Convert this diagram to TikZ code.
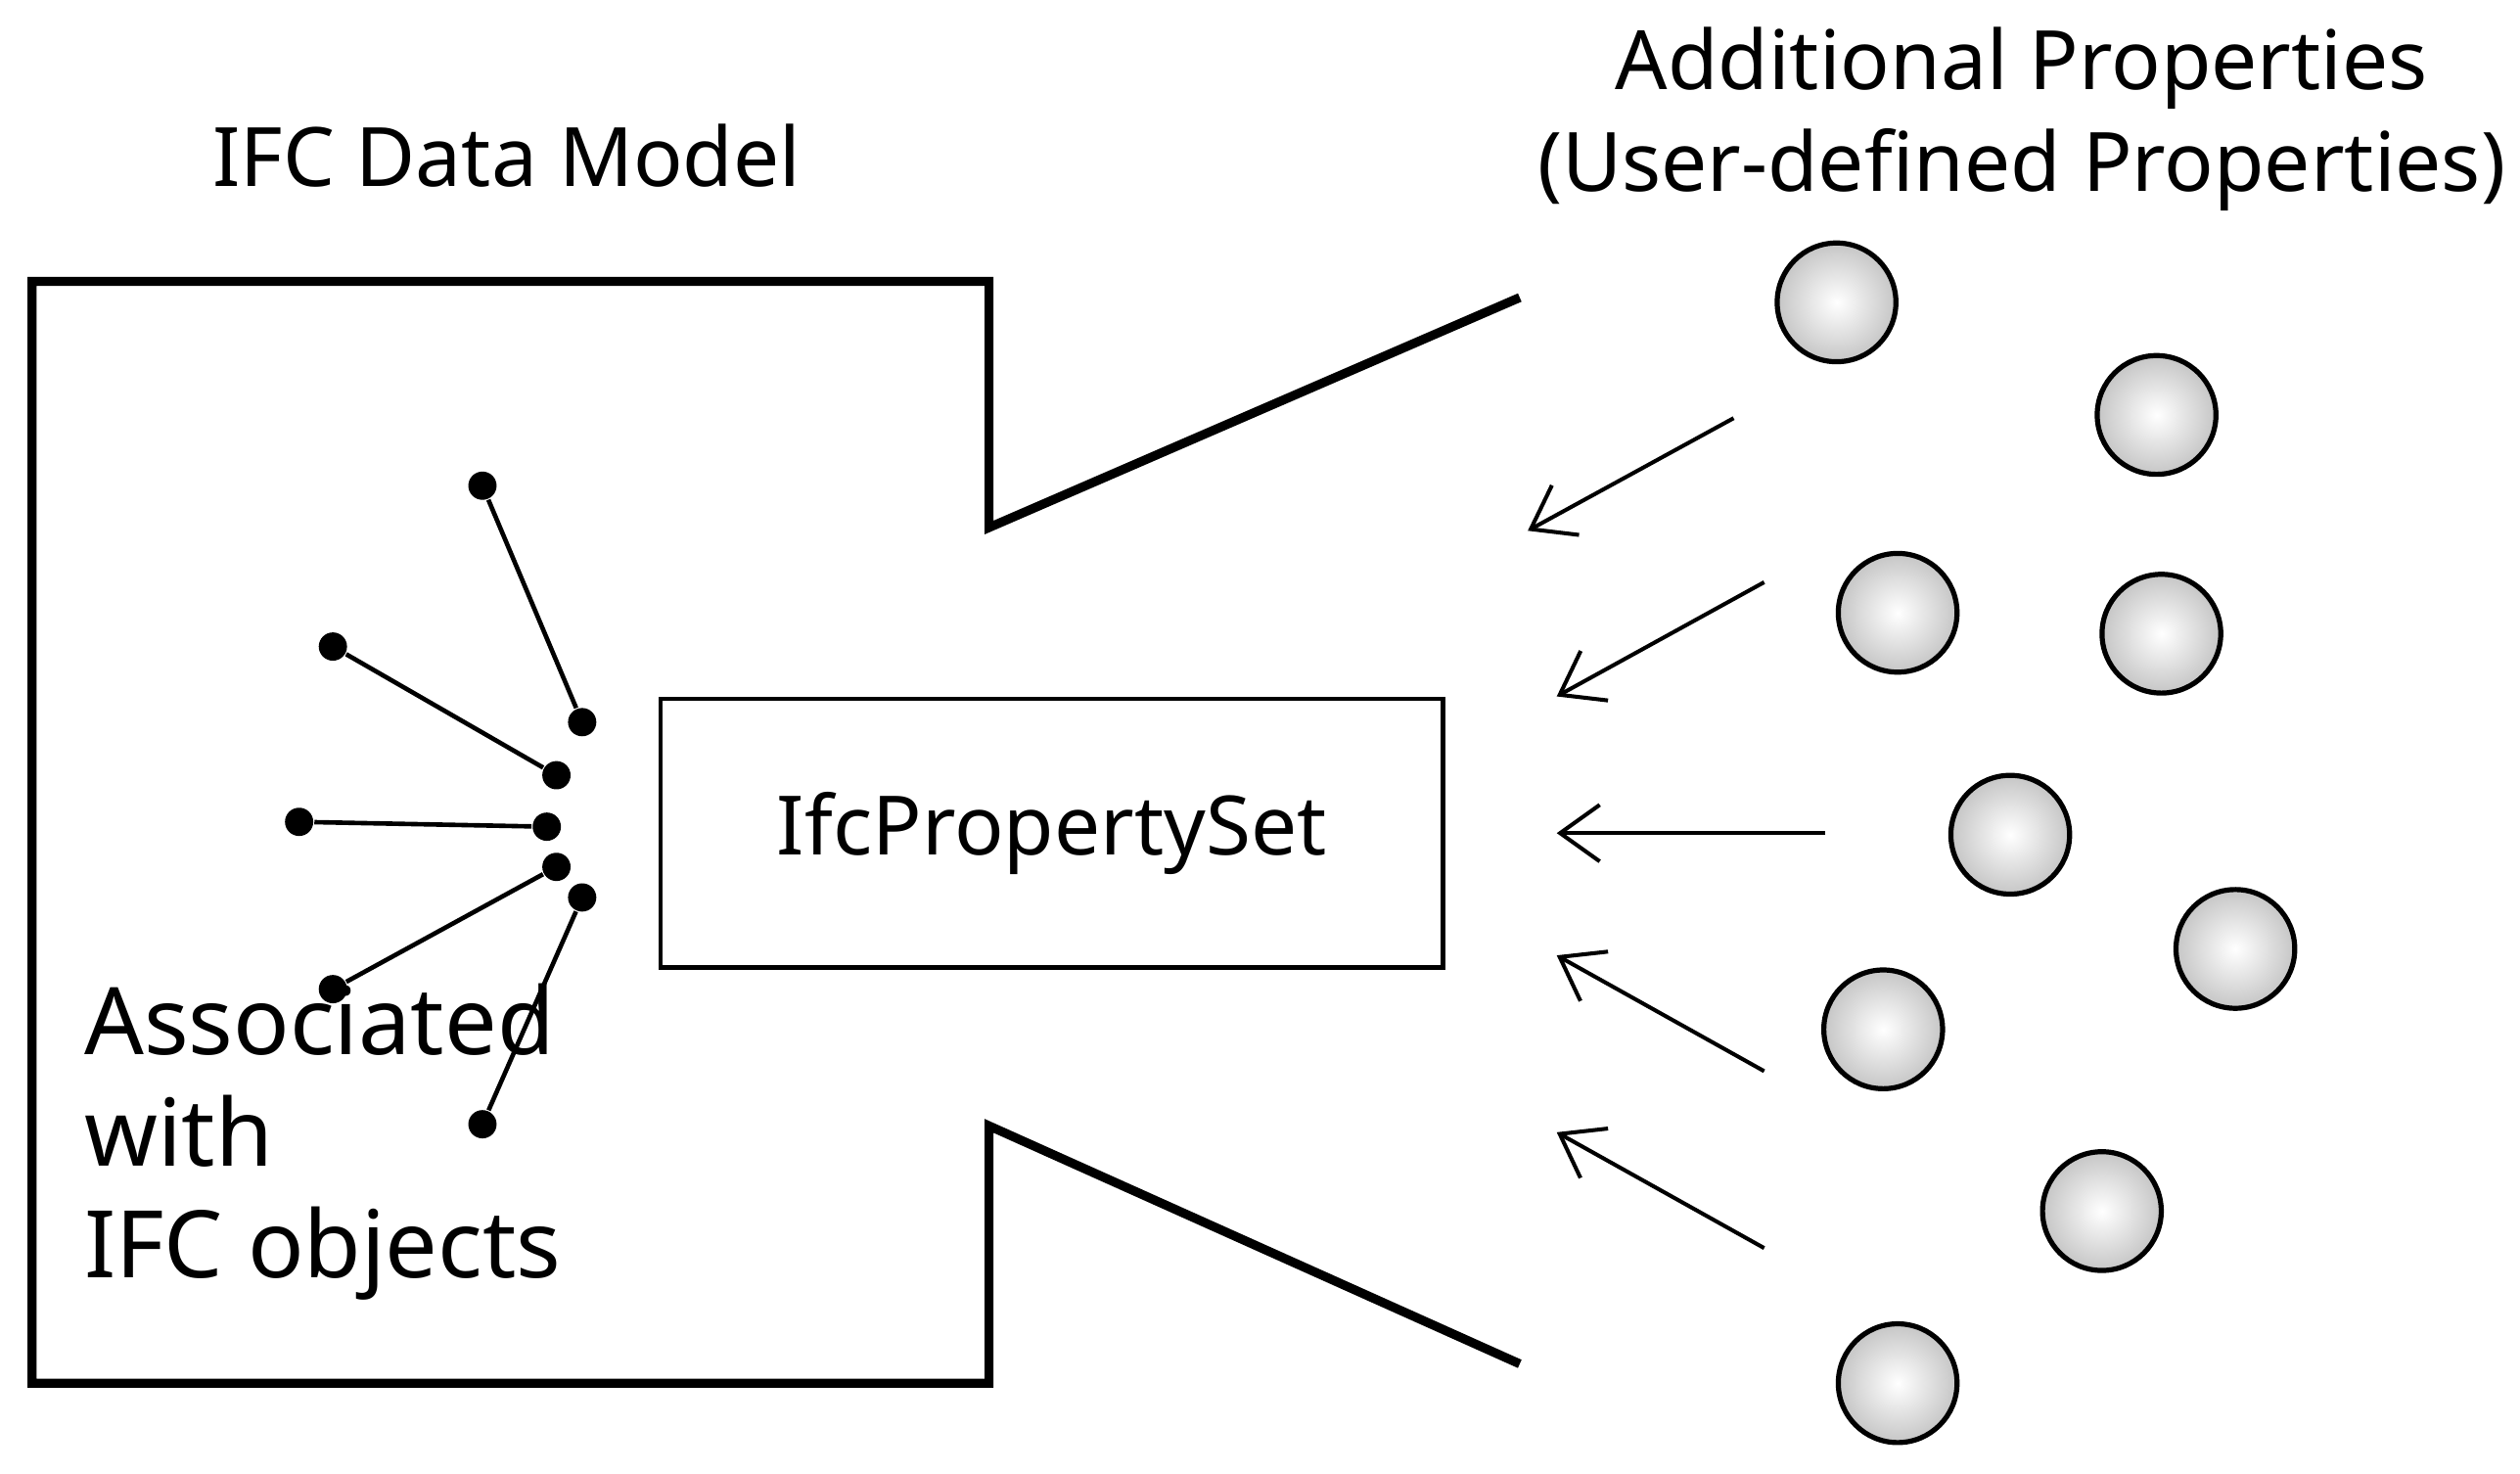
\documentclass[tikz,border=0pt]{standalone}
\usepackage{fontspec}
\setmainfont{Noto Sans}
\usetikzlibrary{arrows.meta}
\begin{document}
\begin{tikzpicture}[x=0.01cm,y=-0.01cm,
  wall/.style={line width=1.6pt,line join=miter},
  dot/.style={circle,fill=black,inner sep=0pt,minimum size=5pt},
  stick/.style={line width=0.8pt},
  prop/.style={circle,draw=black,line width=0.9pt,minimum size=21pt,inner sep=0pt,inner color=white,outer color=gray!45},
  arr/.style={line width=0.7pt,-{Straight Barb[length=7pt,width=10pt]}},
  lbl/.style={font=\fontsize{14.5}{17}\selectfont}]
\useasboundingbox (0,0) rectangle (1567,916);
\draw[wall] (945,185) -- (615,328) -- (615,175) -- (20,175) -- (20,860) -- (615,860) -- (615,700) -- (945,848);
\node[lbl] (t1) at (315,97) {IFC Data Model};
\node[lbl,align=center] (t2) at (1257,74) {Additional Properties\\[1pt](User-defined Properties)};
\node[draw,line width=0.8pt,minimum width=4.86cm,minimum height=1.67cm,lbl] (ps) at (654,518) {IfcPropertySet};
\foreach \n/\ax/\ay/\bx/\by in {a/300/302/362/449,b/207/402/346/482,c/186/511/340/514,d/207/615/346/539,e/300/699/362/558}{
  \node[dot] (d\n1) at (\ax,\ay) {};
  \node[dot] (d\n2) at (\bx,\by) {};
  \draw[stick] (d\n1) -- (d\n2);
}
\node[anchor=west,align=left,font=\fontsize{16.5}{19.8}\selectfont] (t3) at (40,710) {Associated\\with\\IFC objects};
\foreach \n/\ax/\ay/\bx/\by in {p/1078/260/950/330,q/1097/362/968/433,r/1135/518/968/518,s/1097/666/968/594,u/1097/776/968/704}{
  \coordinate (ar\n1) at (\ax,\ay);
  \coordinate (ar\n2) at (\bx,\by);
  \draw[arr] (ar\n1) -- (ar\n2);
}
\foreach \n/\cx/\cy in {1/1142/188,2/1341/258,3/1180/381,4/1344/394,5/1250/519,6/1390/590,7/1171/640,8/1307/753,9/1180/860}{
  \node[prop] (pc\n) at (\cx,\cy) {};
}
\end{tikzpicture}
\end{document}
